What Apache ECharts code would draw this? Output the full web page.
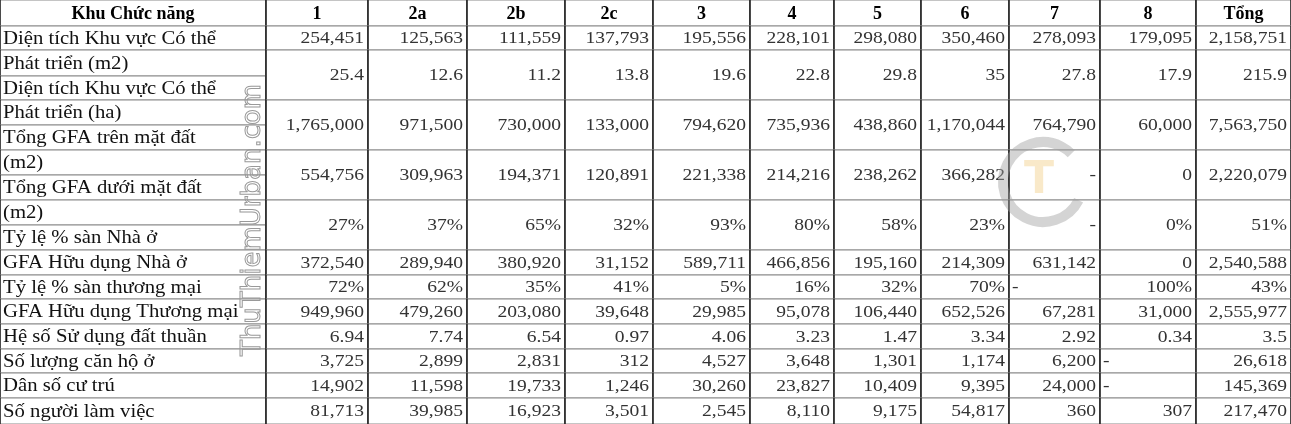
<!DOCTYPE html>
<html>
<head>
<meta charset="UTF-8">
<script src="https://cdn.jsdelivr.net/npm/echarts@6/dist/echarts.min.js"></script>
<style>
html,body{margin:0;padding:0;background:#fff}
#box{width:1291px;height:424px}
</style>
</head>
<body>
<div id="box"></div>
<script>
var headers = ['Khu Chức năng', '1', '2a', '2b', '2c', '3', '4', '5', '6', '7', '8', 'Tổng'];
var labels = ['Diện tích Khu vực Có thể', 'Phát triển (m2)', 'Diện tích Khu vực Có thể', 'Phát triển (ha)',
  'Tổng GFA trên mặt đất', '(m2)', 'Tổng GFA dưới mặt đất', '(m2)', 'Tỷ lệ % sàn Nhà ở',
  'GFA Hữu dụng Nhà ở', 'Tỷ lệ % sàn thương mại', 'GFA Hữu dụng Thương mại', 'Hệ số Sử dụng đất thuần',
  'Số lượng căn hộ ở', 'Dân số cư trú', 'Số người làm việc'];
var values = [
  ['254,451','125,563','111,559','137,793','195,556','228,101','298,080','350,460','278,093','179,095','2,158,751'],
  ['25.4','12.6','11.2','13.8','19.6','22.8','29.8','35','27.8','17.9','215.9'],
  ['1,765,000','971,500','730,000','133,000','794,620','735,936','438,860','1,170,044','764,790','60,000','7,563,750'],
  ['554,756','309,963','194,371','120,891','221,338','214,216','238,262','366,282','-','0','2,220,079'],
  ['27%','37%','65%','32%','93%','80%','58%','23%','-','0%','51%'],
  ['372,540','289,940','380,920','31,152','589,711','466,856','195,160','214,309','631,142','0','2,540,588'],
  ['72%','62%','35%','41%','5%','16%','32%','70%','-','100%','43%'],
  ['949,960','479,260','203,080','39,648','29,985','95,078','106,440','652,526','67,281','31,000','2,555,977'],
  ['6.94','7.74','6.54','0.97','4.06','3.23','1.47','3.34','2.92','0.34','3.5'],
  ['3,725','2,899','2,831','312','4,527','3,648','1,301','1,174','6,200','-','26,618'],
  ['14,902','11,598','19,733','1,246','30,260','23,827','10,409','9,395','24,000','-','145,369'],
  ['81,713','39,985','16,923','3,501','2,545','8,110','9,175','54,817','360','307','217,470']
];
// cells whose dash sits at the left edge [row, col]
var leftCells = [[6, 8], [9, 9], [10, 9]];

// layout: column edges, label-row edges, value-row edges
var colEdges = [0, 266, 368, 467, 565, 653, 750, 834, 921, 1009, 1100, 1196, 1291];
var labelEdges = [26, 50, 76, 100, 125, 150, 175, 200, 225, 250, 275, 299, 324, 349, 373, 398, 424];
var valueEdges = [26, 50, 100, 150, 200, 250, 275, 299, 324, 349, 373, 398, 424];

var cells = [];
headers.forEach(function (h, c) {
  cells.push([colEdges[c], colEdges[c + 1], 0, 26, h, 'center', 1]);
});
labels.forEach(function (l, r) {
  cells.push([0, 266, labelEdges[r], labelEdges[r + 1], l, 'left', 2]);
});
values.forEach(function (row, r) {
  row.forEach(function (v, c) {
    var left = leftCells.some(function (p) { return p[0] === r && p[1] === c; });
    cells.push([colEdges[c + 1], colEdges[c + 2], valueEdges[r], valueEdges[r + 1], v, left ? 'left' : 'right', 0]);
  });
});

function renderItem(params, api) {
  var p0 = api.coord([api.value(0), api.value(2)]);
  var p1 = api.coord([api.value(1), api.value(3)]);
  var text = cells[params.dataIndex][4];
  var align = cells[params.dataIndex][5];
  var kind = api.value(6);
  var tx = align === 'center' ? (p0[0] + p1[0]) / 2 : align === 'left' ? p0[0] + 3 : p1[0] - 4;
  return {
    type: 'group',
    children: [
      { type: 'rect', shape: { x: p0[0], y: p0[1], width: p1[0] - p0[0], height: p1[1] - p0[1] },
        style: { fill: '#fff', stroke: '#8a8a8a', lineWidth: 1 } },
      { type: 'line', shape: { x1: p0[0], y1: p0[1], x2: p0[0], y2: p1[1] }, style: { stroke: '#222', lineWidth: 1.5 } },
      { type: 'line', shape: { x1: p1[0], y1: p0[1], x2: p1[0], y2: p1[1] }, style: { stroke: '#222', lineWidth: 1.5 } },
      { type: 'text', z2: 5, x: tx, y: (p0[1] + p1[1]) / 2 + 1, scaleX: kind === 1 ? 1 : 1.15,
        style: {
          x: 0, y: 0, text: text, align: align, verticalAlign: 'middle',
          fontFamily: 'Liberation Serif', fontSize: kind === 0 ? 17 : 18,
          fontWeight: kind === 1 ? 'bold' : 'normal',
          fill: kind === 1 ? '#000' : kind === 2 ? '#111' : '#333'
        } }
    ]
  };
}

var chart = echarts.init(document.getElementById('box'));
chart.setOption({
  animation: false,
  grid: { left: 0, right: 0, top: 0, bottom: 0 },
  xAxis: { type: 'value', min: 0, max: 1291, show: false },
  yAxis: { type: 'value', min: 0, max: 424, inverse: true, show: false },
  series: [{ type: 'custom', renderItem: renderItem, data: cells, silent: true }],
  graphic: [
    { type: 'text', x: 240, y: 356, rotation: Math.PI / 2, z: 100,
      style: { text: 'ThuThiemUrban.com', fontFamily: 'DejaVu Sans', fontSize: 26, fill: 'rgba(255,255,255,0)', stroke: '#999', lineWidth: 1 } },
    { type: 'arc', shape: { cx: 1043, cy: 182, r: 40, startAngle: Math.PI * 0.15, endAngle: Math.PI * 1.75 }, z: 100,
      style: { stroke: 'rgba(160,160,160,0.45)', lineWidth: 10, fill: null } },
    { type: 'text', x: 1024, y: 160, z: 100,
      style: { text: 'T', fontFamily: 'DejaVu Sans', fontWeight: 'bold', fontSize: 44, fill: 'rgba(240,200,120,0.4)' } }
  ]
});
</script>
</body>
</html>
